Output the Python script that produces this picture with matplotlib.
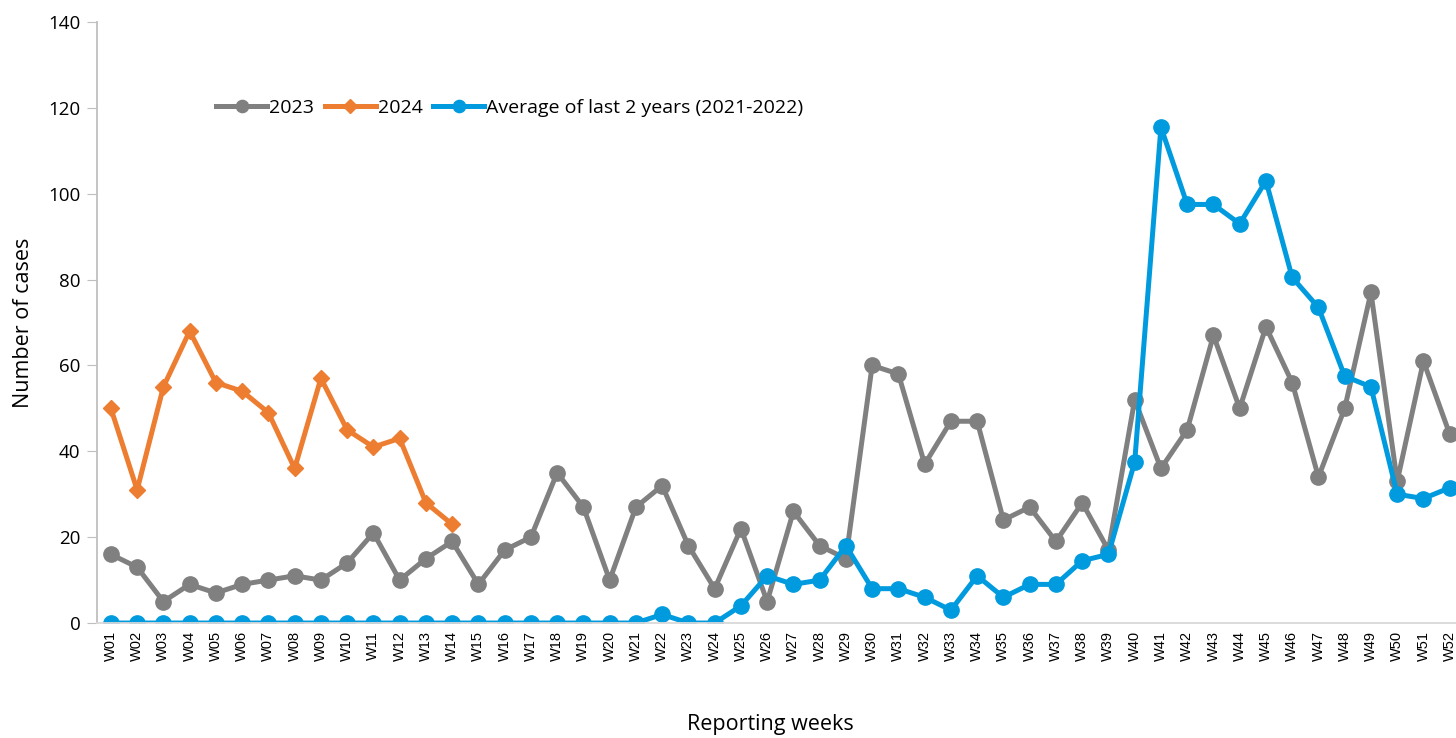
import numpy as np
import matplotlib.pyplot as plt

weeks = ['W%02d' % i for i in range(1, 53)]

cases_2023 = [16, 13, 5, 9, 7, 9, 10, 11, 10, 14, 21, 10, 15, 19, 9, 17, 20, 35, 27, 10,
              27, 32, 18, 8, 22, 5, 26, 18, 15, 60, 58, 37, 47, 47, 24, 27, 19, 28, 17, 52,
              36, 45, 67, 50, 69, 56, 34, 50, 77, 33, 61, 44]
cases_2024 = [50, 31, 55, 68, 56, 54, 49, 36, 57, 45, 41, 43, 28, 23]
avg_2021_2022 = [0, 0, 0, 0, 0, 0, 0, 0, 0, 0, 0, 0, 0, 0, 0, 0, 0, 0, 0, 0,
                 0, 2, 0, 0, 4, 11, 9, 10, 18, 8, 8, 6, 3, 11, 6, 9, 9, 14.5, 16, 37.5,
                 115.5, 97.5, 97.5, 93, 103, 80.5, 73.5, 57.5, 55, 30, 29, 31.5]

x = np.arange(len(weeks))

fig = plt.figure(figsize=(14.56, 7.38), dpi=100)
ax = fig.add_axes([0.0666, 0.1558, 1 - 0.0666, 0.8144])

ax.plot(x, cases_2023, color='#808080', lw=3.6, marker='o', ms=11, label='2023')
ax.plot(x[:len(cases_2024)], cases_2024, color='#ED7D31', lw=3.6, marker='D', ms=8.5,
        label='2024')
ax.plot(x, avg_2021_2022, color='#009BDE', lw=3.6, marker='o', ms=11,
        label='Average of last 2 years (2021-2022)')

ax.set_xlim(-0.53, 51.24)
ax.set_ylim(0, 140)
ax.set_yticks(range(0, 141, 20))
ax.set_xticks(x)
ax.set_xticklabels(weeks, rotation=90, fontsize=10.5, family='Liberation Sans')
ax.tick_params(axis='x', length=0, pad=6)
ax.tick_params(axis='y', length=7, color='#BFBFBF', labelsize=13.5, pad=5)
for lbl in ax.get_yticklabels():
    lbl.set_family('Open Sans')

ax.spines['top'].set_visible(False)
ax.spines['right'].set_visible(False)
ax.spines['left'].set_color('#BFBFBF')
ax.spines['left'].set_linewidth(1.3)
ax.spines['bottom'].set_color('#D9D9D9')
ax.spines['bottom'].set_linewidth(1.3)

ax.set_ylabel('Number of cases', fontsize=15.5, family='Open Sans')
ax.yaxis.set_label_coords(-0.046, 0.5)
fig.text(0.529, 0.004, 'Reporting weeks', fontsize=15.5, family='Open Sans',
         ha='center', va='bottom')

ax.legend(loc='center left', bbox_to_anchor=(199 / 1456, 1 - 108 / 738),
          bbox_transform=fig.transFigure, frameon=False, ncol=3,
          handlelength=2.6, handletextpad=0.12, columnspacing=0.55, markerscale=0.8,
          prop={'family': 'Open Sans', 'size': 14})

fig.savefig('out.png', dpi=100)
